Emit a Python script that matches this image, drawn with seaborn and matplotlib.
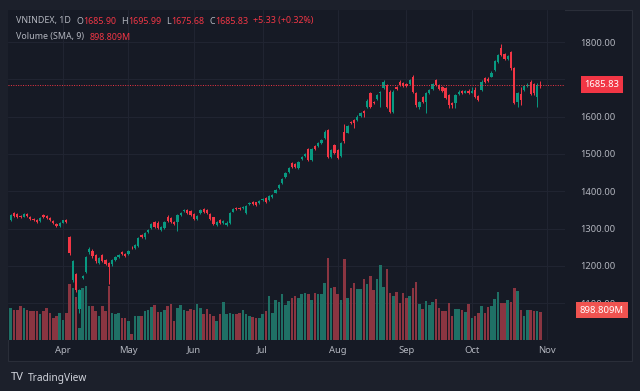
import numpy as np
import pandas as pd
import matplotlib.pyplot as plt
import matplotlib.transforms as mtransforms
from matplotlib.patches import Rectangle
import seaborn as sns

# VNINDEX daily candles, 10 Mar - 30 Oct (trading days)
opens = [1323, 1341, 1338, 1333, 1332, 1340, 1331, 1326, 1322, 1320,
         1336, 1334, 1328, 1321, 1313, 1307, 1316, 1322, 1277, 1162,
         1178, 1085, 1168, 1183, 1237, 1240, 1228, 1208, 1228, 1215,
         1207, 1205, 1216, 1223, 1236, 1232, 1232, 1249, 1248, 1252,
         1282, 1276, 1290, 1301, 1318, 1316, 1296, 1301, 1332, 1329,
         1318, 1318, 1336, 1346, 1350, 1347, 1339, 1325, 1342, 1352,
         1350, 1339, 1330, 1310, 1322, 1316, 1310, 1315, 1345, 1356,
         1356, 1354, 1342, 1365, 1372, 1370, 1368, 1376, 1382, 1377,
         1385, 1396, 1408, 1422, 1438, 1451, 1476, 1472, 1462, 1486,
         1495, 1513, 1484, 1521, 1521, 1529, 1542, 1564, 1492, 1524,
         1510, 1494, 1560, 1557, 1586, 1590, 1591, 1601, 1616, 1625,
         1663, 1640, 1646, 1663, 1676, 1685, 1667, 1613, 1680, 1694,
         1690, 1688, 1688, 1705, 1662, 1627, 1653, 1640, 1662, 1674,
         1698, 1685, 1680, 1676, 1658, 1636, 1636, 1660, 1668, 1664,
         1669, 1664, 1671, 1656, 1671, 1704, 1702, 1707, 1725, 1747,
         1783, 1767, 1755, 1772, 1729, 1640, 1660, 1670, 1682, 1694,
         1688, 1652, 1685.90]
highs = [1340, 1344, 1341, 1336, 1342, 1342, 1334, 1328, 1325, 1330,
         1339, 1336, 1330, 1323, 1315, 1318, 1324, 1325, 1280, 1216,
         1182, 1138, 1176, 1227, 1251, 1244, 1231, 1223, 1231, 1218,
         1210, 1219, 1226, 1232, 1239, 1235, 1243, 1252, 1258, 1276,
         1285, 1290, 1299, 1314, 1321, 1319, 1306, 1320, 1335, 1331,
         1320, 1339, 1345, 1353, 1353, 1349, 1341, 1336, 1353, 1355,
         1352, 1341, 1332, 1321, 1325, 1323, 1319, 1345, 1355, 1359,
         1358, 1361, 1362, 1370, 1375, 1372, 1377, 1383, 1385, 1389,
         1393, 1406, 1420, 1436, 1452, 1465, 1479, 1475, 1481, 1495,
         1503, 1516, 1516, 1524, 1532, 1540, 1563, 1567, 1513, 1527,
         1513, 1533, 1581, 1578, 1589, 1593, 1603, 1612, 1619, 1646,
         1666, 1643, 1661, 1669, 1697, 1688, 1670, 1670, 1683, 1697,
         1693, 1691, 1701, 1712, 1665, 1643, 1656, 1666, 1674, 1690,
         1701, 1688, 1683, 1679, 1661, 1640, 1661, 1670, 1671, 1671,
         1675, 1680, 1680, 1659, 1697, 1707, 1705, 1721, 1752, 1768,
         1794, 1770, 1765, 1775, 1732, 1665, 1680, 1686, 1689, 1697,
         1691, 1689, 1695.99]
lows = [1320, 1331, 1328, 1328, 1330, 1331, 1322, 1319, 1315, 1318,
        1329, 1326, 1319, 1311, 1303, 1305, 1314, 1315, 1228, 1156,
        1130, 1073, 1164, 1180, 1232, 1222, 1208, 1205, 1209, 1202,
        1150, 1200, 1213, 1220, 1229, 1224, 1230, 1244, 1246, 1250,
        1274, 1273, 1287, 1298, 1302, 1298, 1293, 1299, 1318, 1315,
        1310, 1292, 1334, 1344, 1339, 1333, 1322, 1322, 1340, 1341,
        1338, 1322, 1310, 1307, 1313, 1313, 1306, 1312, 1343, 1349,
        1350, 1351, 1340, 1362, 1363, 1361, 1366, 1374, 1369, 1375,
        1383, 1394, 1406, 1420, 1436, 1449, 1462, 1463, 1459, 1484,
        1493, 1481, 1482, 1510, 1519, 1527, 1540, 1488, 1488, 1499,
        1486, 1491, 1530, 1555, 1579, 1570, 1589, 1599, 1598, 1623,
        1624, 1633, 1644, 1625, 1674, 1624, 1610, 1610, 1672, 1682,
        1680, 1679, 1686, 1664, 1627, 1620, 1637, 1610, 1660, 1672,
        1682, 1672, 1665, 1647, 1624, 1622, 1622, 1658, 1661, 1662,
        1660, 1662, 1650, 1642, 1669, 1691, 1693, 1705, 1723, 1745,
        1762, 1752, 1752, 1726, 1633, 1627, 1631, 1668, 1680, 1657,
        1659, 1627, 1675.68]
closes = [1336, 1334, 1330, 1331, 1340, 1333, 1325, 1322, 1318, 1328,
          1332, 1329, 1322, 1314, 1306, 1316, 1322, 1318, 1234, 1213,
          1135, 1135, 1172, 1224, 1245, 1226, 1212, 1220, 1212, 1205,
          1198, 1216, 1223, 1229, 1232, 1227, 1240, 1247, 1255, 1274,
          1277, 1288, 1296, 1312, 1305, 1301, 1303, 1317, 1321, 1318,
          1313, 1336, 1342, 1350, 1342, 1336, 1325, 1333, 1350, 1344,
          1341, 1325, 1313, 1318, 1316, 1320, 1316, 1342, 1352, 1352,
          1353, 1358, 1360, 1368, 1366, 1364, 1374, 1380, 1372, 1386,
          1390, 1403, 1417, 1433, 1449, 1462, 1465, 1466, 1478, 1492,
          1500, 1484, 1513, 1513, 1529, 1537, 1560, 1492, 1510, 1502,
          1489, 1530, 1535, 1575, 1582, 1582, 1600, 1609, 1610, 1643,
          1627, 1636, 1658, 1666, 1694, 1627, 1613, 1667, 1675, 1685,
          1683, 1682, 1698, 1667, 1630, 1640, 1640, 1663, 1671, 1687,
          1685, 1675, 1668, 1650, 1632, 1630, 1658, 1667, 1664, 1668,
          1663, 1668, 1653, 1645, 1694, 1694, 1696, 1718, 1749, 1765,
          1765, 1755, 1762, 1729, 1636, 1662, 1645, 1683, 1686, 1660,
          1662, 1686, 1685.83]
# volume in millions of shares
volumes = [960, 900, 900, 1020, 960, 900, 870, 870, 870, 780,
           870, 960, 810, 660, 720, 810, 600, 810, 1680, 1560,
           1300, 360, 1560, 1620, 1020, 1020, 870, 720, 1020, 870,
           1620, 810, 780, 810, 660, 660, 570, 180, 720, 720,
           720, 870, 900, 990, 1050, 840, 840, 900, 1020, 1080,
           570, 960, 1050, 900, 870, 930, 900, 1080, 960, 780,
           930, 780, 720, 570, 780, 1140, 780, 810, 780, 780,
           810, 900, 780, 720, 690, 660, 660, 780, 870, 1320,
           810, 1200, 1140, 1380, 1050, 1170, 1260, 1320, 1260, 1380,
           1410, 1380, 1200, 1410, 1380, 1380, 1710, 2460, 1560, 1590,
           1380, 1200, 2430, 1260, 1560, 1710, 1530, 1530, 1830, 1680,
           1920, 1500, 1830, 2250, 1590, 2130, 1410, 1320, 1440, 1110,
           1410, 1260, 1320, 1560, 1740, 1080, 930, 1170, 1050, 1140,
           1230, 960, 870, 870, 1110, 720, 930, 930, 900, 840,
           1080, 660, 720, 810, 1020, 810, 990, 1020, 1230, 1440,
           1110, 1110, 1200, 1150, 1560, 1470, 900, 720, 900, 900,
           870, 870, 840]

month_labels = ["Apr", "May", "Jun", "Jul", "Aug", "Sep", "Oct", "Nov"]
month_pos = [16, 36, 56, 77, 100, 121, 141, 164]
price_ticks = [1100, 1200, 1300, 1400, 1500, 1600, 1700, 1800]
last_close = 1685.83
vol_sma = 898.809

df = pd.DataFrame({"day": np.arange(len(closes)), "open": opens, "high": highs,
                   "low": lows, "close": closes, "volume": volumes})
df["dir"] = np.where(df["close"] >= df["open"], "up", "down")

BG = "#161a25"
FRAME = "#1c202b"
UP, DOWN = "#089981", "#f23645"
VOL_UP, VOL_DOWN = "#1f7065", "#8a3541"
TXT = "#b2b5be"
GRID = "#212532"

sns.set_theme(style="dark", rc={"figure.facecolor": FRAME, "axes.facecolor": BG,
                                "axes.edgecolor": BG, "text.color": TXT,
                                "xtick.color": TXT, "ytick.color": TXT})
plt.rcParams["font.family"] = ["Noto Sans", "DejaVu Sans"]

W, H = 640, 391
fig = plt.figure(figsize=(6.4, 3.91), dpi=100)

def fx(px):
    return px / W

def fy(py):
    return 1 - py / H

fig.patches.append(Rectangle((fx(8), fy(361)), 624 / W, 351 / H, transform=fig.transFigure,
                             facecolor=BG, edgecolor="#2a2e39", lw=0.8, zorder=0))

rect = [fx(8), fy(340), 557 / W, 330 / H]
axv = fig.add_axes(rect, zorder=1)
ax = fig.add_axes(rect, zorder=2)

# volume (bottom layer)
sns.barplot(data=df, x="day", y="volume", hue="dir",
            palette={"up": VOL_UP, "down": VOL_DOWN}, native_scale=True,
            dodge=False, width=0.78, errorbar=None, saturation=1,
            legend=False, linewidth=0, ax=axv)
axv.set_facecolor(BG)
axv.set_xlim(-0.83, 169.5)
axv.set_ylim(0, 9900)
axv.set_xticks(month_pos)
axv.set_yticks([])
axv.grid(axis="x", color=GRID, lw=0.7)
axv.set_axisbelow(True)
axv.tick_params(labelbottom=False, length=0)
axv.set(xlabel="", ylabel="")
grid_tr = mtransforms.blended_transform_factory(axv.transAxes, ax.transData)
for p in price_ticks:
    axv.plot([0, 1], [p, p], color=GRID, lw=0.7, transform=grid_tr, zorder=0)

# candles
colors = np.where(df["dir"] == "up", UP, DOWN)
body = (df["close"] - df["open"]).to_numpy()
body = np.where(np.abs(body) < 1.5, np.sign(body + 1e-9) * 1.5, body)
ax.vlines(df["day"], df["low"], df["high"], colors=colors, lw=0.7)
ax.bar(df["day"], body, bottom=df["open"], width=0.7, color=colors, lw=0)
ax.axhline(last_close, color=DOWN, ls=(0, (1, 1.5)), lw=0.7)

ax.set_facecolor("none")
ax.set_xlim(-0.83, 169.5)
ax.set_ylim(1001.1, 1885.8)
ax.yaxis.tick_right()
ax.set_yticks(price_ticks, [f"{p:.2f}" for p in price_ticks])
ax.set_xticks(month_pos, month_labels)
ax.tick_params(axis="y", length=0, pad=11, labelsize=6.8, labelcolor=TXT)
ax.tick_params(axis="x", length=0, pad=4, labelsize=6.8, labelcolor=TXT)
ax.grid(False)
for ax_ in (ax, axv):
    for s in ax_.spines.values():
        s.set_visible(False)

# price scale labels
lab_tr = mtransforms.blended_transform_factory(ax.transAxes, ax.transData)
ax.text(1.066, last_close, f"{last_close:.2f}", transform=lab_tr, ha="center", va="center",
        color="white", fontsize=6.8, clip_on=False, zorder=5,
        bbox=dict(boxstyle="square,pad=0.4", fc=DOWN, ec="none"))
vlab_tr = mtransforms.blended_transform_factory(ax.transAxes, axv.transData)
ax.text(1.066, vol_sma, f"{vol_sma:.3f}M", transform=vlab_tr, ha="center", va="center",
        color="white", fontsize=6.8, clip_on=False, zorder=5,
        bbox=dict(boxstyle="square,pad=0.4", fc="#ef5350", ec="none"))

# legend lines, each piece placed right after the previous one
def legend_row(y, pieces):
    prev = None
    for s, c, gap in pieces:
        if prev is None:
            prev = ax.annotate(s, xy=(fx(16.5), fy(y)), xycoords="figure fraction",
                               ha="left", va="center", fontsize=6.4, color=c,
                               annotation_clip=False)
        else:
            prev = ax.annotate(s, xy=(1, 0.5), xycoords=prev, xytext=(gap, 0),
                               textcoords="offset points", ha="left", va="center",
                               fontsize=6.4, color=c, annotation_clip=False)

legend_row(21, [("VNINDEX, 1D", TXT, 0), ("O", TXT, 3.5), ("1685.90", DOWN, 0.3),
                ("H", TXT, 3.5), ("1695.99", DOWN, 0.3), ("L", TXT, 3.5),
                ("1675.68", DOWN, 0.3), ("C", TXT, 3.5), ("1685.83", DOWN, 0.3),
                ("+5.33 (+0.32%)", DOWN, 3.5)])
legend_row(37, [("Volume (SMA, 9)", TXT, 0), (f"{vol_sma:.3f}M", DOWN, 4)])

# footer
fig.text(fx(11), fy(378), "TV", ha="left", va="center", fontsize=8, fontweight="black",
         color="#d1d4dc")
fig.text(fx(28), fy(378), "TradingView", ha="left", va="center", fontsize=7.3, color="#d1d4dc")

fig.savefig("out.png", dpi=100, facecolor=FRAME)
